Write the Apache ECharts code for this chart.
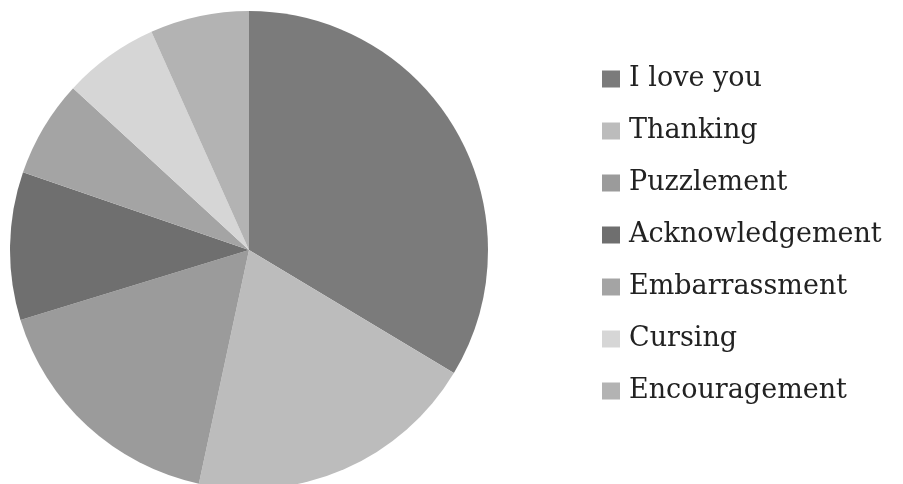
<!DOCTYPE html>
<html>
<head>
<meta charset="utf-8">
<script src="https://cdn.jsdelivr.net/npm/echarts@6/dist/echarts.min.js"></script>
<style>
html,body{margin:0;padding:0;background:#fff;}
#chart{width:903px;height:484px;}
</style>
</head>
<body>
<div id="chart"></div>
<script>
const categories = ["I love you", "Thanking", "Puzzlement", "Acknowledgement", "Embarrassment", "Cursing", "Encouragement"];
const values = [33.6, 19.75, 16.9, 10.0, 6.56, 6.47, 6.69];
const colors = ["#7b7b7b", "#bcbcbc", "#9b9b9b", "#6f6f6f", "#a4a4a4", "#d6d6d6", "#b3b3b3"];

const chart = echarts.init(document.getElementById('chart'), null, {renderer: 'canvas'});
chart.setOption({
  animation: false,
  backgroundColor: '#ffffff',
  color: colors,
  legend: {
    orient: 'vertical',
    left: 602,
    top: 63,
    padding: 0,
    itemWidth: 18,
    itemHeight: 17,
    itemGap: 20,
    icon: 'rect',
    textStyle: {
      fontFamily: 'DejaVu Serif',
      fontSize: 27,
      color: '#222',
      lineHeight: 32,
      padding: [0, 0, 0, 4]
    },
    data: categories
  },
  series: [{
    type: 'pie',
    center: [249, 250],
    radius: 239,
    startAngle: 90,
    clockwise: true,
    label: {show: false},
    labelLine: {show: false},
    emphasis: {disabled: true},
    itemStyle: {borderWidth: 0},
    data: categories.map((c, i) => ({name: c, value: values[i]}))
  }]
});
</script>
</body>
</html>
